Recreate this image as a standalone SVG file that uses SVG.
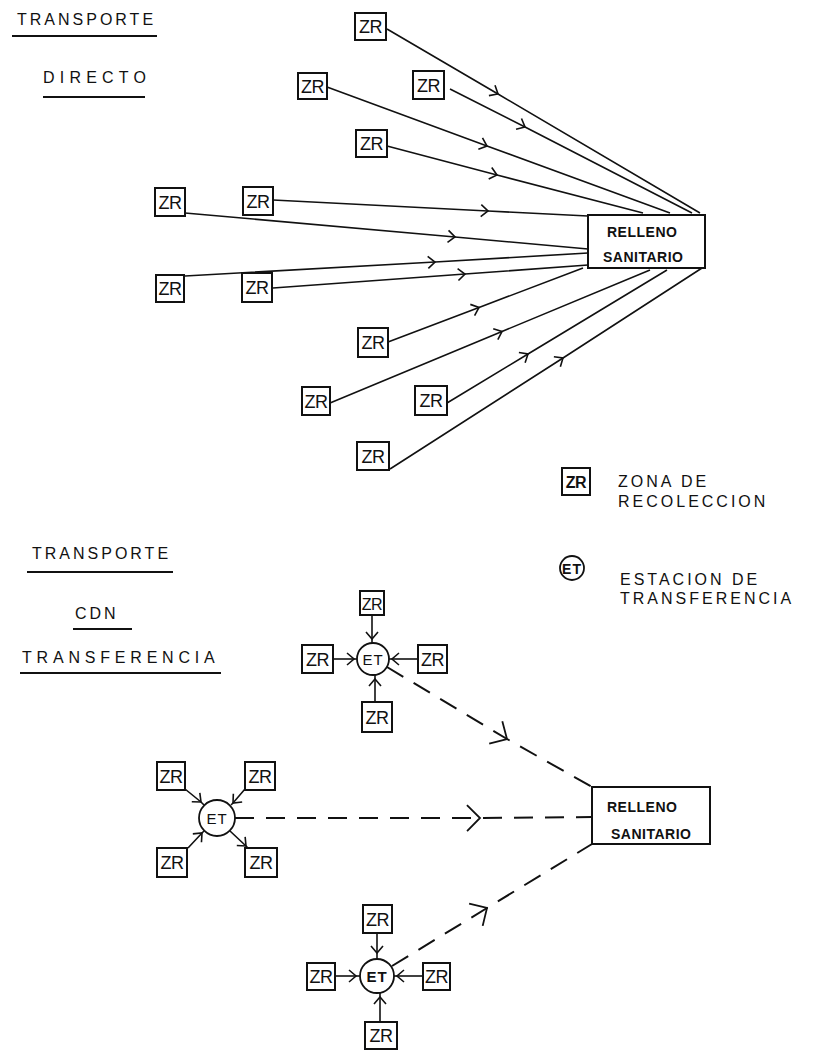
<svg xmlns="http://www.w3.org/2000/svg" width="817" height="1051" viewBox="0 0 817 1051">
<style>
.bg{fill:#fff}
.box{fill:#fff;stroke:#111;stroke-width:2}
.zr{font-family:"Liberation Sans",Arial,sans-serif;font-size:18px;fill:#111;text-anchor:middle;letter-spacing:-0.5px}
.title{font-family:"Liberation Sans",Arial,sans-serif;font-size:16px;fill:#111}
.ul{stroke:#111;stroke-width:1.8}
.rs{font-family:"Liberation Sans",Arial,sans-serif;font-size:14px;font-weight:bold;fill:#111;letter-spacing:0.5px}
.et{font-family:"Liberation Sans",Arial,sans-serif;font-size:15px;fill:#111;text-anchor:middle;letter-spacing:1px}
.ln{fill:none;stroke:#111;stroke-width:1.6;marker-mid:url(#chev)}
.dl{fill:none;stroke:#111;stroke-width:2;stroke-dasharray:19 12;marker-mid:url(#chevL)}
.circ{fill:#fff;stroke:#111;stroke-width:1.8}
</style>
<defs>
<marker id="chev" viewBox="-9 -8 11 16" markerWidth="11" markerHeight="16" refX="0" refY="0" orient="auto" markerUnits="userSpaceOnUse">
<path d="M-7,-6 L0,0 L-7,6" fill="none" stroke="#111" stroke-width="1.6" stroke-dasharray="none"/>
</marker>
<marker id="chevL" viewBox="-15 -15 17 30" markerWidth="17" markerHeight="30" refX="0" refY="0" orient="auto" markerUnits="userSpaceOnUse">
<path d="M-13,-13 L0,0 L-13,13" fill="none" stroke="#111" stroke-width="1.8" stroke-dasharray="none"/>
</marker>
</defs>
<rect class="bg" x="0" y="0" width="817" height="1051"/>

<g id="titles">
<text class="title" x="17" y="25" letter-spacing="3">TRANSPORTE</text>
<line class="ul" x1="12" y1="36" x2="157" y2="36"/>
<text class="title" x="43" y="83" letter-spacing="5.2">DIRECTO</text>
<line class="ul" x1="43" y1="97" x2="145" y2="97"/>
<text class="title" x="32" y="559" letter-spacing="3">TRANSPORTE</text>
<line class="ul" x1="27" y1="572" x2="173" y2="572"/>
<text class="title" x="75" y="619" letter-spacing="3">CDN</text>
<line class="ul" x1="73" y1="629" x2="132" y2="629"/>
<text class="title" x="22" y="663" letter-spacing="4.8">TRANSFERENCIA</text>
<line class="ul" x1="20" y1="673" x2="221" y2="673"/>
</g>

<g id="connectors">
<polyline class="ln" points="387,29 498,94 700,213"/>
<polyline class="ln" points="450,89 525,127 692,213"/>
<polyline class="ln" points="327,87 487,146 670,213"/>
<polyline class="ln" points="387,146 497,175 643,213"/>
<polyline class="ln" points="273,200 488,211 588,216"/>
<polyline class="ln" points="185,213 455,237 588,249"/>
<polyline class="ln" points="185,276 435,262 588,253"/>
<polyline class="ln" points="273,288 465,274 588,265"/>
<polyline class="ln" points="388,342 479,307.5 583,268"/>
<polyline class="ln" points="330,403 502,331.5 650,270"/>
<polyline class="ln" points="447,403 528,354 667,270"/>
<polyline class="ln" points="390,469 563,358 702,268"/>

<polyline class="ln" points="372,615 372,639 372,643"/>
<polyline class="ln" points="333,659 354,659 357,659"/>
<polyline class="ln" points="418,659 392,659 389,659"/>
<polyline class="ln" points="375,702 375,679 375,675"/>

<polyline class="ln" points="185,789 201,802 204,805"/>
<polyline class="ln" points="245,789 233,803 231,805"/>
<polyline class="ln" points="188,848 202,833 204,831"/>
<polyline class="ln" points="230,831 246,846 248,848"/>

<polyline class="ln" points="377,933 377,953 377,959"/>
<polyline class="ln" points="335,976 356,976 360,976"/>
<polyline class="ln" points="423,976 397,976 394,976"/>
<polyline class="ln" points="380,1022 380,997 380,993"/>

<polyline class="dl" points="387,667 507,739 592,787"/>
<polyline class="dl" points="235,818 480,818 592,817"/>
<polyline class="dl" points="392,966 487,908 592,844"/>
</g>

<g id="relleno-top">
<rect class="box" x="588" y="215" width="117" height="53"/>
<text class="rs" x="607" y="237">RELLENO</text>
<text class="rs" x="603" y="262">SANITARIO</text>
</g>
<g id="relleno-bottom">
<rect class="box" x="592" y="787" width="118" height="57"/>
<text class="rs" x="607" y="812">RELLENO</text>
<text class="rs" x="611" y="839">SANITARIO</text>
</g>

<g id="zr1"><rect class="box" x="355" y="13" width="31" height="27"/><text class="zr" x="370.5" y="33">ZR</text></g>
<g id="zr2"><rect class="box" x="413" y="71" width="31" height="28"/><text class="zr" x="428.5" y="91.5">ZR</text></g>
<g id="zr3"><rect class="box" x="298" y="73" width="29" height="26"/><text class="zr" x="312.5" y="92.5">ZR</text></g>
<g id="zr4"><rect class="box" x="356" y="130" width="31" height="27"/><text class="zr" x="371.5" y="150">ZR</text></g>
<g id="zr5"><rect class="box" x="155" y="188" width="30" height="28"/><text class="zr" x="170" y="208.5">ZR</text></g>
<g id="zr6"><rect class="box" x="243" y="187" width="30" height="28"/><text class="zr" x="258" y="207.5">ZR</text></g>
<g id="zr7"><rect class="box" x="156" y="275" width="28" height="27"/><text class="zr" x="170" y="295">ZR</text></g>
<g id="zr8"><rect class="box" x="242" y="273" width="30" height="29"/><text class="zr" x="257" y="294">ZR</text></g>
<g id="zr9"><rect class="box" x="358" y="328" width="30" height="29"/><text class="zr" x="373" y="349">ZR</text></g>
<g id="zr10"><rect class="box" x="302" y="387" width="28" height="28"/><text class="zr" x="316" y="407.5">ZR</text></g>
<g id="zr11"><rect class="box" x="415" y="386" width="32" height="29"/><text class="zr" x="431" y="407">ZR</text></g>
<g id="zr12"><rect class="box" x="357" y="442" width="32" height="28"/><text class="zr" x="373" y="462.5">ZR</text></g>

<g id="legend">
<rect class="box" x="562" y="468" width="28" height="27"/><text class="zr" x="576" y="488" style="font-size:16px;font-weight:bold">ZR</text>
<text class="title" x="618" y="487" letter-spacing="3">ZONA DE</text>
<text class="title" x="618" y="507" letter-spacing="3">RECOLECCION</text>
<circle class="circ" cx="572" cy="568" r="12"/><text class="et" x="572" y="573.5" style="font-size:14px;font-weight:bold">ET</text>
<text class="title" x="620" y="585" letter-spacing="3">ESTACION DE</text>
<text class="title" x="620" y="604" letter-spacing="3">TRANSFERENCIA</text>
</g>

<g id="et-top">
<circle class="circ" cx="373" cy="659" r="16"/><text class="et" x="373" y="664.5">ET</text>
<g id="et-top-zr-n"><rect class="box" x="360" y="591" width="24" height="24"/><text class="zr" x="372" y="609.5" style="font-size:16px">ZR</text></g>
<g id="et-top-zr-w"><rect class="box" x="302" y="645" width="31" height="28"/><text class="zr" x="317.5" y="665.5">ZR</text></g>
<g id="et-top-zr-e"><rect class="box" x="418" y="645" width="29" height="28"/><text class="zr" x="432.5" y="665.5">ZR</text></g>
<g id="et-top-zr-s"><rect class="box" x="362" y="702" width="30" height="30"/><text class="zr" x="377" y="723.5">ZR</text></g>
</g>

<g id="et-mid">
<circle class="circ" cx="217" cy="818" r="18"/><text class="et" x="217" y="823.5">ET</text>
<g id="et-mid-zr-nw"><rect class="box" x="157" y="762" width="28" height="28"/><text class="zr" x="171" y="782.5">ZR</text></g>
<g id="et-mid-zr-ne"><rect class="box" x="245" y="762" width="30" height="28"/><text class="zr" x="260" y="782.5">ZR</text></g>
<g id="et-mid-zr-sw"><rect class="box" x="157" y="848" width="30" height="29"/><text class="zr" x="172" y="869">ZR</text></g>
<g id="et-mid-zr-se"><rect class="box" x="245" y="848" width="32" height="29"/><text class="zr" x="261" y="869">ZR</text></g>
</g>

<g id="et-bottom">
<circle class="circ" cx="377" cy="976" r="17"/><text class="et" x="377" y="981.5" style="font-weight:bold">ET</text>
<g id="et-bot-zr-n"><rect class="box" x="363" y="905" width="29" height="28"/><text class="zr" x="377.5" y="925.5">ZR</text></g>
<g id="et-bot-zr-w"><rect class="box" x="307" y="963" width="28" height="27"/><text class="zr" x="321" y="983">ZR</text></g>
<g id="et-bot-zr-e"><rect class="box" x="423" y="963" width="27" height="27"/><text class="zr" x="436.5" y="983">ZR</text></g>
<g id="et-bot-zr-s"><rect class="box" x="365" y="1022" width="32" height="27"/><text class="zr" x="381" y="1042">ZR</text></g>
</g>
</svg>
